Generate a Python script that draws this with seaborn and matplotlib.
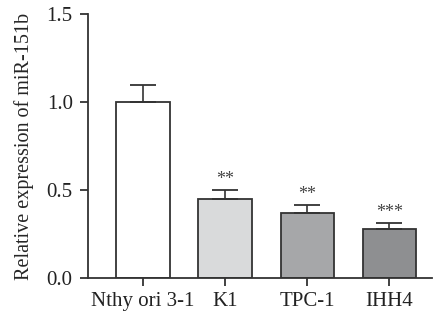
import matplotlib
matplotlib.use("Agg")
import matplotlib.pyplot as plt
import seaborn as sns
import pandas as pd
import numpy as np

# Cell lines and measured relative expression (mean, upper SD)
cell_lines = ["Nthy ori 3-1", "K1", "TPC-1", "IHH4"]
expression = [1.0, 0.45, 0.372, 0.28]
sd = [0.097, 0.05, 0.04, 0.033]
significance = ["", "**", "**", "***"]
bar_colors = ["#ffffff", "#d9dadb", "#a6a7a9", "#8e8f91"]

df = pd.DataFrame({"cell": cell_lines, "expr": expression})

sns.set_theme(style="ticks")
plt.rcParams["font.family"] = ["Liberation Serif", "DejaVu Serif"]

fig = plt.figure(figsize=(4.37, 3.2), dpi=100)
ax = fig.add_axes([88 / 437, 42 / 320, (432 - 88) / 437, 264 / 320])

sns.barplot(data=df, x="cell", y="expr", hue="cell", palette=bar_colors,
            width=0.65, edgecolor="#333333", linewidth=1.3, legend=False,
            errorbar=None, ax=ax)

xs = np.arange(len(cell_lines))
ax.errorbar(xs, expression, yerr=[np.zeros(len(sd)), sd], fmt="none",
            ecolor="#333333", elinewidth=1.2, capsize=9.5, capthick=1.3)

for x, m, s, lab in zip(xs, expression, sd, significance):
    if lab:
        ax.text(x, m + s + 0.012, lab, ha="center", va="bottom",
                fontsize=13, color="#444444")

ax.set_xlim(-0.67, 3.52)
ax.set_ylim(0, 1.5)
ax.set_yticks([0.0, 0.5, 1.0, 1.5])
ax.set_yticklabels(["0.0", "0.5", "1.0", "1.5"])
ax.set_xlabel("")
ax.set_ylabel("Relative expression of miR-151b", fontsize=14.5, labelpad=9)

for side in ["top", "right"]:
    ax.spines[side].set_visible(False)
for side in ["left", "bottom"]:
    ax.spines[side].set_color("#333333")
    ax.spines[side].set_linewidth(1.3)

ax.tick_params(axis="both", colors="#333333", labelcolor="#222222",
               labelsize=15, width=1.3, length=6)
ax.tick_params(axis="y", pad=5)
ax.tick_params(axis="x", pad=4)

fig.savefig("out.png", dpi=100)
